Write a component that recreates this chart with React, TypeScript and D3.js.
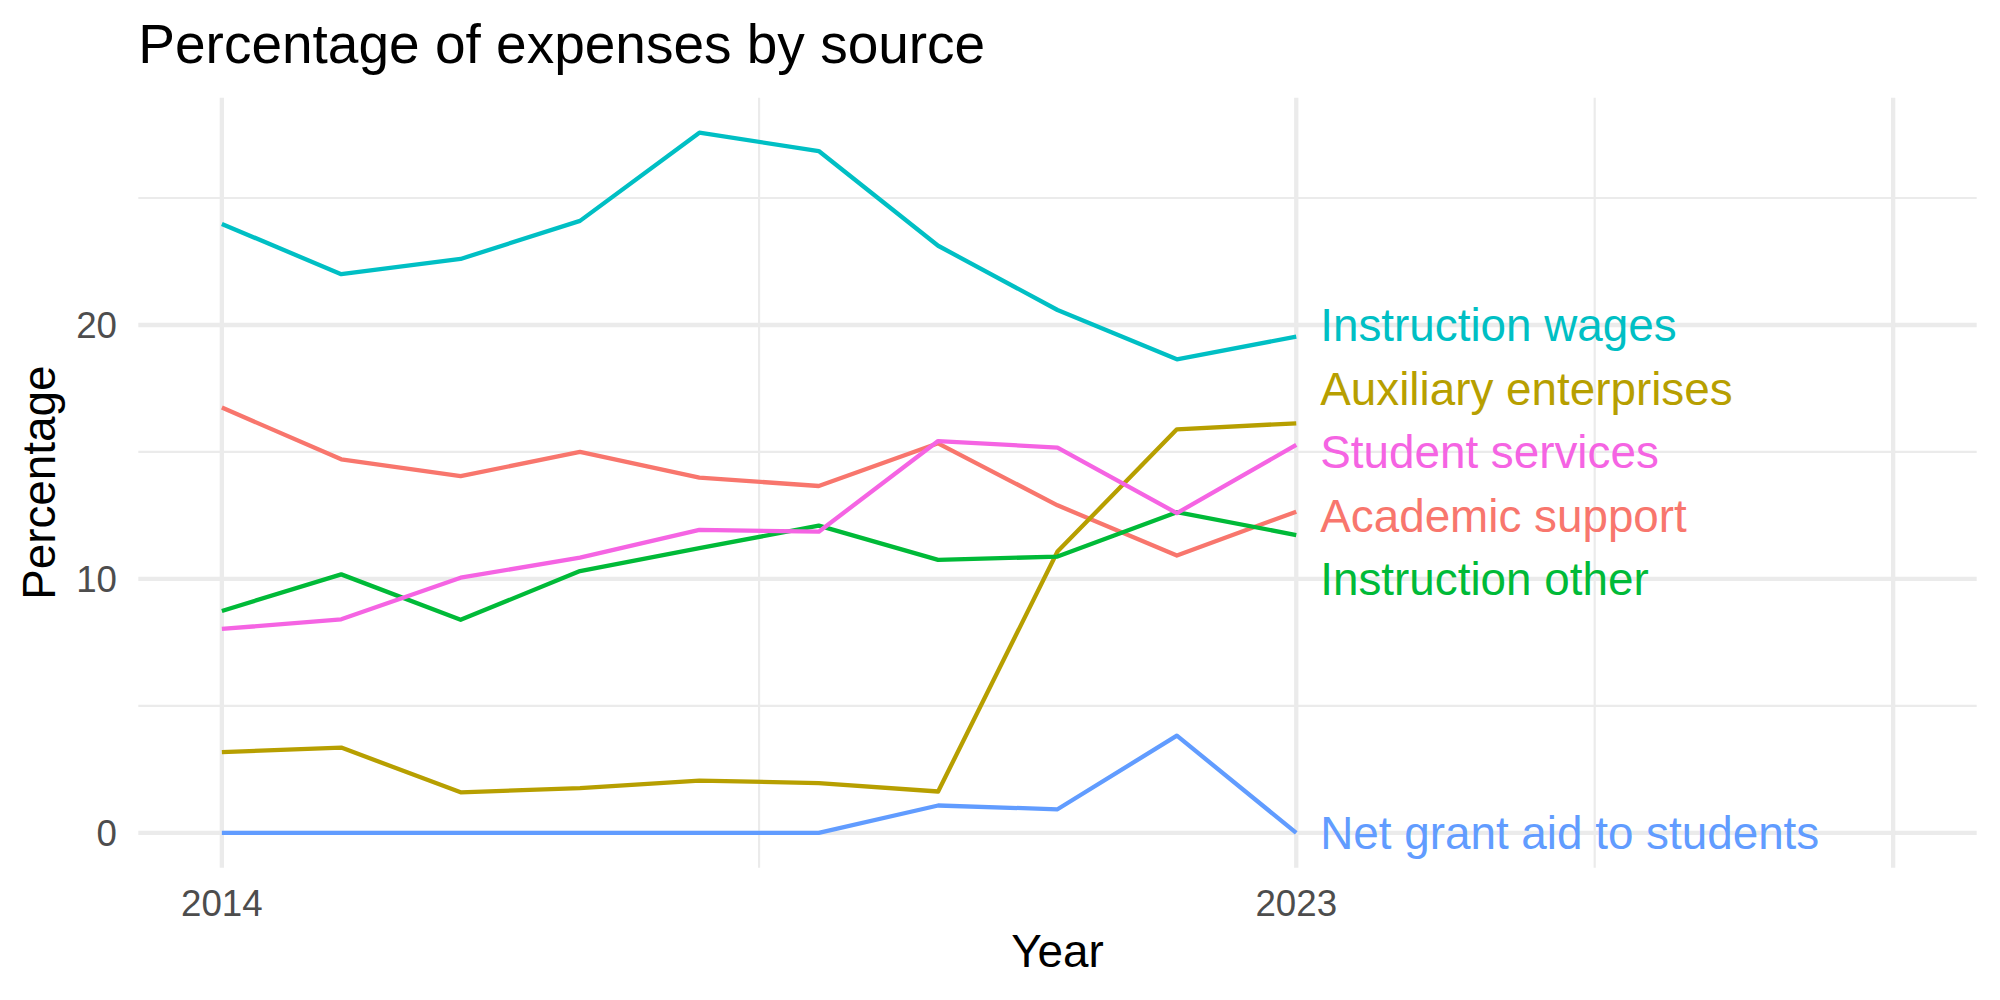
import * as d3 from 'd3';

// Percentage of expenses by source, 2014-2023

const years = [2014, 2015, 2016, 2017, 2018, 2019, 2020, 2021, 2022, 2023];

const seriesNames = [
  'Academic support',
  'Auxiliary enterprises',
  'Instruction other',
  'Instruction wages',
  'Net grant aid to students',
  'Student services',
];

const academicSupport = [16.75, 14.71, 14.05, 15.0, 13.99, 13.66, 15.34, 12.9, 10.92, 12.65];
const auxiliaryEnterprises = [3.18, 3.36, 1.6, 1.76, 2.06, 1.96, 1.63, 11.08, 15.89, 16.13];
const instructionOther = [8.74, 10.18, 8.39, 10.31, 11.21, 12.1, 10.75, 10.88, 12.63, 11.73];
const instructionWages = [23.98, 22.0, 22.6, 24.1, 27.57, 26.85, 23.12, 20.59, 18.65, 19.54];
const netGrantAid = [0, 0, 0, 0, 0, 0, 1.08, 0.93, 3.83, 0];
const studentServices = [8.03, 8.41, 10.05, 10.84, 11.93, 11.86, 15.43, 15.17, 12.59, 15.28];

const seriesValues = [
  academicSupport,
  auxiliaryEnterprises,
  instructionOther,
  instructionWages,
  netGrantAid,
  studentServices,
];

// where the end labels sit (in percentage units, spaced apart)
const labelValues = [12.5, 17.5, 10, 20, 0, 15];

const colors = ['#F8766D', '#B79F00', '#00BA38', '#00BFC4', '#619CFF', '#F564E3'];

const xBreaks = [2014, 2023, 2028];
const xLabels = ['2014', '2023', ''];
const yBreaks = [0, 10, 20];
const yMinor = [5, 15, 25];

export default function App() {
  const width = 2000;
  const height = 1000;
  const panel = { left: 138.3, right: 1976.7, top: 97.7, bottom: 867.7 };
  const font = "'Liberation Sans', Arial, Helvetica, sans-serif";

  const x = d3.scaleLinear().domain([2013.3, 2028.7]).range([panel.left, panel.right]);
  const y = d3.scaleLinear().domain([-1.37, 28.95]).range([panel.bottom, panel.top]);

  const xMinor = xBreaks.slice(1).map((b, i) => (b + xBreaks[i]) / 2);

  const line = d3
    .line<number>()
    .x((_, i) => x(years[i]))
    .y((d) => y(d));

  const last = years[years.length - 1];

  return (
    <svg
      width={width}
      height={height}
      style={{ display: 'block', position: 'absolute', left: 0, top: 0, background: '#fff' }}
      fontFamily={font}
    >
      <rect width={width} height={height} fill="#fff" />

      {/* minor grid */}
      {yMinor.map((v) => (
        <line key={'ym' + v} x1={panel.left} x2={panel.right} y1={y(v)} y2={y(v)} stroke="#EBEBEB" strokeWidth={2.2} />
      ))}
      {xMinor.map((v) => (
        <line key={'xm' + v} x1={x(v)} x2={x(v)} y1={panel.top} y2={panel.bottom} stroke="#EBEBEB" strokeWidth={2.2} />
      ))}

      {/* major grid */}
      {yBreaks.map((v) => (
        <line key={'y' + v} x1={panel.left} x2={panel.right} y1={y(v)} y2={y(v)} stroke="#EBEBEB" strokeWidth={4.3} />
      ))}
      {xBreaks.map((v) => (
        <line key={'x' + v} x1={x(v)} x2={x(v)} y1={panel.top} y2={panel.bottom} stroke="#EBEBEB" strokeWidth={4.3} />
      ))}

      {/* lines */}
      {seriesValues.map((vals, i) => (
        <path
          key={seriesNames[i]}
          d={line(vals) || ''}
          fill="none"
          stroke={colors[i]}
          strokeWidth={4.3}
          strokeLinejoin="round"
        />
      ))}

      {/* end labels */}
      {seriesNames.map((name, i) => (
        <text
          key={'lab' + name}
          x={x(last) + 24}
          y={y(labelValues[i])}
          dy="0.358em"
          fontSize={45.8}
          fill={colors[i]}
        >
          {name}
        </text>
      ))}

      {/* y axis tick labels */}
      {yBreaks.map((v) => (
        <text key={'yt' + v} x={117} y={y(v)} dy="0.358em" textAnchor="end" fontSize={36.7} fill="#4D4D4D">
          {v}
        </text>
      ))}

      {/* x axis tick labels */}
      {xBreaks.map((v, i) => (
        <text key={'xt' + v} x={x(v)} y={916} textAnchor="middle" fontSize={36.7} fill="#4D4D4D">
          {xLabels[i]}
        </text>
      ))}

      {/* axis titles */}
      <text x={(panel.left + panel.right) / 2} y={966.7} textAnchor="middle" fontSize={45.8} fill="#000">
        Year
      </text>
      <text
        transform={`translate(55,${(panel.top + panel.bottom) / 2}) rotate(-90)`}
        textAnchor="middle"
        fontSize={45.8}
        fill="#000"
      >
        Percentage
      </text>

      {/* title */}
      <text x={138.3} y={63} fontSize={55} fill="#000">
        Percentage of expenses by source
      </text>
    </svg>
  );
}
